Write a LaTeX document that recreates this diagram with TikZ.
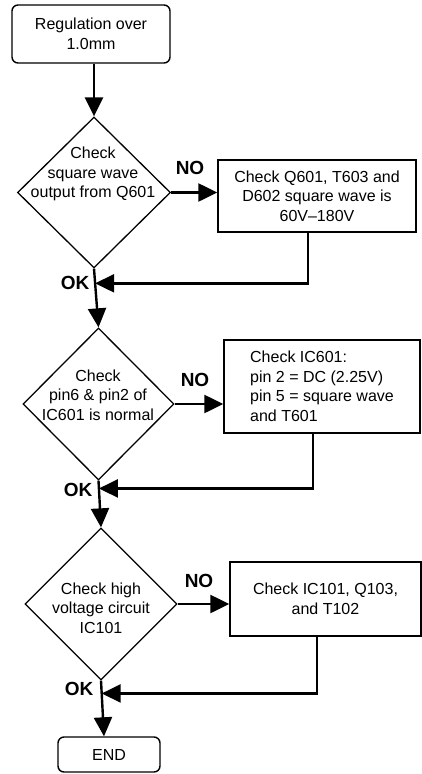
\documentclass[tikz,border=0pt]{standalone}
\usepackage{fontspec}
\setmainfont{Liberation Sans}
\usetikzlibrary{shapes.geometric,arrows.meta}
\begin{document}
\begin{tikzpicture}[x=1pt,y=-1pt,
  every node/.style={font=\fontsize{16}{19.5}\selectfont},
  rbox/.style={draw,line width=1.4pt,rounded corners=6pt,inner sep=0pt,align=center},
  pbox/.style={draw,line width=1.4pt,inner sep=0pt,align=center},
  dia/.style={draw,diamond,line width=1.3pt,inner sep=0pt},
  dtext/.style={align=center,inner sep=0pt},
  lab/.style={font=\fontsize{19}{22}\selectfont\bfseries,inner sep=0pt},
  conn/.style={line width=2.4pt,-{Triangle[length=19pt,width=18pt]}}]
\useasboundingbox (0,0) rectangle (422,774);

% start
\node[rbox,minimum width=158pt,minimum height=58pt] (start) at (91,34) {Regulation over\\1.0mm};

% decision 1
\node[dia,minimum width=153pt,minimum height=151pt] (d1) at (94,192.5) {};
\node[dtext] (t1) at (93,174) {Check\\square wave\\output from Q601};
\node[pbox,minimum width=198pt,minimum height=72pt] (b1) at (317,196) {Check Q601, T603 and\\D602 square wave is\\60V--180V};
\node[lab] (no1) at (190,168) {NO};
\node[lab] (ok1) at (75,283) {OK};

% decision 2
\node[dia,minimum width=151pt,minimum height=152pt] (d2) at (98.5,404) {};
\node[dtext] (t2) at (98,395) {Check\\pin6 \& pin2 of\\IC601 is normal};
\node[pbox,minimum width=196pt,minimum height=93pt,align=left] (b2) at (322,386.5) {Check IC601:\\pin 2 = DC (2.25V)\\pin 5 = square wave\\and T601};
\node[lab] (no2) at (195,380) {NO};
\node[lab] (ok2) at (78,490) {OK};

% decision 3
\node[dia,minimum width=152pt,minimum height=152pt] (d3) at (101,604) {};
\node[dtext] (t3) at (101,608) {Check high\\voltage circuit\\IC101};
\node[pbox,minimum width=191pt,minimum height=74pt] (b3) at (325.5,599) {Check IC101, Q103,\\and T102};
\node[lab] (no3) at (199,581) {NO};
\node[lab] (ok3) at (79,689) {OK};

% end
\node[rbox,minimum width=102pt,minimum height=35pt] (end) at (109,754.5) {END};

% merge points
\path (d1.south) -- coordinate[pos=0.25] (m1) (d2.north);
\path (d2.south) -- coordinate[pos=0.167] (m2) (d3.north);
\path (d3.south) -- coordinate[pos=0.23] (m3) ([xshift=-5pt]end.north);

% connectors
\draw[conn] (start.south -| d1.north) -- (d1.north);
\draw[conn] (d1.east) -- (d1.east -| b1.west);
\draw[conn] ([xshift=-9pt]b1.south) |- (m1);
\draw[conn] (d1.south) -- (d2.north);
\draw[conn] (d2.east) -- (d2.east -| b2.west);
\draw[conn] ([xshift=-9pt]b2.south) |- (m2);
\draw[conn] (d2.south) -- (d3.north);
\draw[conn] (d3.east) -- (d3.east -| b3.west);
\draw[conn] ([xshift=-8.5pt]b3.south) |- (m3);
\draw[conn] (d3.south) -- ([xshift=-5pt]end.north);
\end{tikzpicture}
\end{document}
